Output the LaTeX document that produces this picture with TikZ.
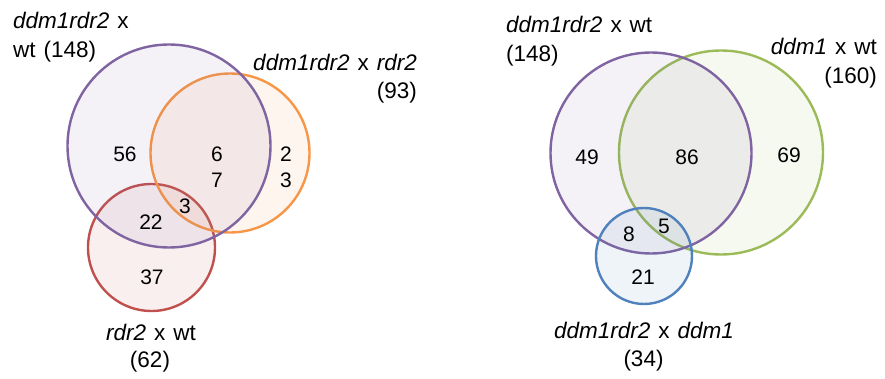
\documentclass[tikz,border=0pt]{standalone}
\usepackage{fontspec}
\setmainfont{Liberation Sans}
\definecolor{cpur}{HTML}{8064A2}
\definecolor{corg}{HTML}{F79646}
\definecolor{cred}{HTML}{C0504D}
\definecolor{cgrn}{HTML}{9BBB59}
\definecolor{cblu}{HTML}{4F81BD}
\newcommand\mylblfont{\fontsize{22.5}{28}\selectfont\spaceskip=8pt plus 2pt\relax}
\tikzset{
  setc/.style={circle, draw=#1, line width=2.4pt, fill=#1, fill opacity=0.09, draw opacity=1, inner sep=0pt, outer sep=0pt},
  num/.style={font=\fontsize{21}{25}\selectfont, inner sep=0pt, anchor=center},
  lbl/.style={font=\mylblfont, inner sep=0pt},
}
\begin{document}
\begin{tikzpicture}[x=1pt,y=-1pt]
\path[use as bounding box] (0,0) rectangle (885,379);
% left diagram
\node[setc=cred, minimum size=127pt] (lr) at (151.5,247.5) {};
\node[setc=corg, minimum size=159pt] (lo) at (230,153) {};
\node[setc=cpur, minimum size=203pt] (lp) at (169,146) {};
\node[lbl, anchor=base west] (lpa) at (13,29) {\textit{ddm1rdr2} x};
\node[lbl, anchor=base west] (lpb) at (13,57.5) {wt (148)};
\node[lbl, anchor=base east] (loa) at (417,70.5) {\textit{ddm1rdr2} x \textit{rdr2}};
\node[lbl, anchor=base east] (lob) at (417,99) {(93)};
\node[lbl, anchor=base] (lra) at (151,340.5) {\textit{rdr2} x wt};
\node[lbl, anchor=base] (lrb) at (150,367.5) {(62)};
\node[num] (n56) at (125,154) {56};
\node[num] (n6) at (217,154) {6};
\node[num] (n7) at (217,180) {7};
\node[num] (n2) at (286,154) {2};
\node[num] (n3a) at (286,180) {3};
\node[num] (n3b) at (185,206) {3};
\node[num] (n22) at (151,222) {22};
\node[num] (n37) at (152,277) {37};
% right diagram
\node[setc=cgrn, minimum size=204pt] (rg) at (721,152.5) {};
\node[setc=cpur, minimum size=201pt] (rp) at (651,153) {};
\node[setc=cblu, minimum size=96pt] (rb) at (644,256) {};
\node[lbl, anchor=base west] (rpa) at (506,32.3) {\textit{ddm1rdr2} x wt};
\node[lbl, anchor=base west] (rpb) at (506,61.7) {(148)};
\node[lbl, anchor=base east] (rga) at (877,54.3) {\textit{ddm1} x wt};
\node[lbl, anchor=base east] (rgb) at (877,83.3) {(160)};
\node[lbl, anchor=base] (rba) at (644,338.3) {\textit{ddm1rdr2} x \textit{ddm1}};
\node[lbl, anchor=base] (rbb) at (643.5,366.7) {(34)};
\node[num] (n49) at (587,157) {49};
\node[num] (n86) at (687,157) {86};
\node[num] (n69) at (789,155) {69};
\node[num] (n8) at (629,234) {8};
\node[num] (n5) at (664,226) {5};
\node[num] (n21) at (643,277) {21};
\end{tikzpicture}
\end{document}
